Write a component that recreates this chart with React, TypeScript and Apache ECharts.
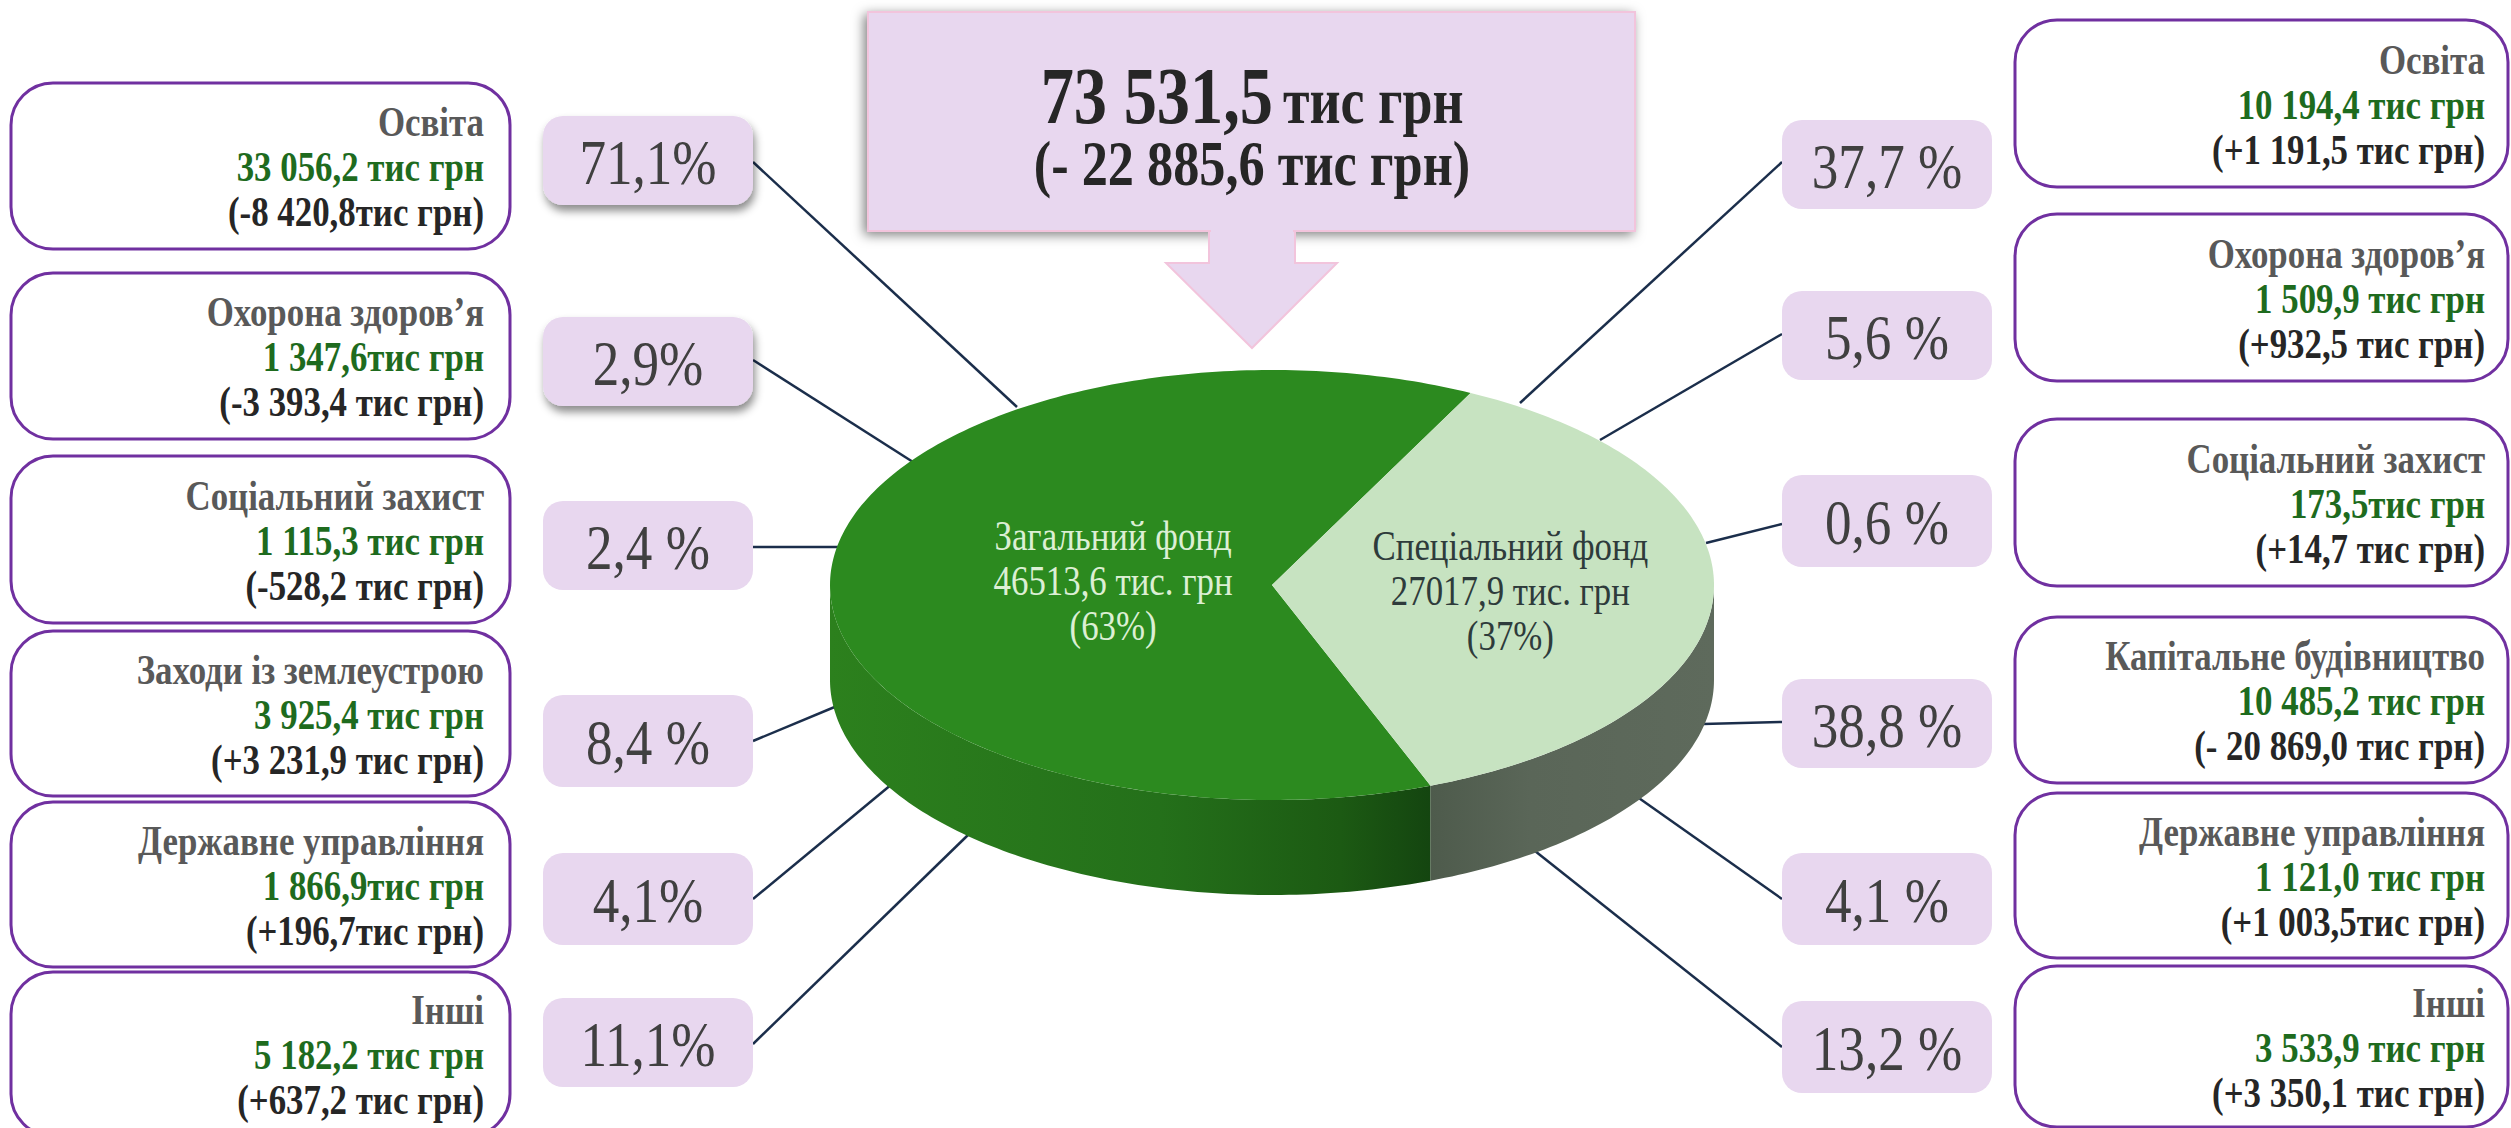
import React, { useEffect, useRef } from 'react';
import * as echarts from 'echarts';

// ---------------- DATA ----------------
const fundNames = ['Загальний фонд', 'Спеціальний фонд'];
const fundValues = [46513.6, 27017.9];
const fundShares = ['63%', '37%'];
const fundUnit = 'тис. грн';

const totalAmount = '73 531,5';
const totalUnit = 'тис грн';
const totalChange = '(- 22 885,6 тис грн)';

const leftCategories = ['Освіта', 'Охорона здоров’я', 'Соціальний захист', 'Заходи із землеустрою', 'Державне управління', 'Інші'];
const leftAmounts = ['33 056,2 тис грн', '1 347,6тис грн', '1 115,3 тис грн', '3 925,4 тис грн', '1 866,9тис грн', '5 182,2 тис грн'];
const leftChanges = ['(-8 420,8тис грн)', '(-3 393,4 тис грн)', '(-528,2 тис грн)', '(+3 231,9 тис грн)', '(+196,7тис грн)', '(+637,2 тис грн)'];
const leftShares = ['71,1%', '2,9%', '2,4 %', '8,4 %', '4,1%', '11,1%'];

const rightCategories = ['Освіта', 'Охорона здоров’я', 'Соціальний захист', 'Капітальне будівництво', 'Державне управління', 'Інші'];
const rightAmounts = ['10 194,4 тис грн', '1 509,9 тис грн', '173,5тис грн', '10 485,2 тис грн', '1 121,0 тис грн', '3 533,9 тис грн'];
const rightChanges = ['(+1 191,5 тис грн)', '(+932,5 тис грн)', '(+14,7 тис грн)', '(- 20 869,0 тис грн)', '(+1 003,5тис грн)', '(+3 350,1 тис грн)'];
const rightShares = ['37,7 %', '5,6 %', '0,6 %', '38,8 %', '4,1 %', '13,2 %'];

// ---------------- LAYOUT ----------------
const W = 2511;
const H = 1128;
const FAMILY = 'Liberation Serif';
const SQUEEZE = 0.83; // the reference's serif text is horizontally condensed

const PIE = { cx: 1272, cy: 585, rx: 442, ry: 215, depth: 95, startAngle: 63.3 };
const pieTopColors = ['#2C8A1F', '#C7E3C1'];
const pieLabelColors = ['#DCEFD4', '#2E3B3B'];
const pieLabelRadius = [0.36, 0.54];

const leftInfoY = [[83, 249], [273, 439], [456, 623], [631, 796], [802, 967], [972, 1136]];
const rightInfoY = [[20, 187], [214, 381], [419, 586], [617, 783], [793, 958], [966, 1127]];
const leftPctY = [[116, 205], [317, 406], [501, 590], [695, 787], [853, 945], [998, 1087]];
const rightPctY = [[120, 209], [291, 380], [475, 567], [679, 768], [853, 945], [1001, 1093]];
const leftPctShadow = [true, true, false, false, false, false];
// [startY, endX, endY]
const leftLines = [[162, 1017, 407], [360, 913, 462], [547, 840, 547], [741, 837, 706], [899, 892, 784], [1044, 968, 835]];
const rightLines = [[162, 1520, 403], [334, 1600, 440], [524, 1706, 543], [722, 1703, 724], [899, 1636, 796], [1047, 1535, 851]];

const LAV = '#E8D7EF';
const PURPLE = '#7030A0';
const LINE = '#1B2E4B';

function txt(x: number, y: number, text: string, size: number, bold: boolean, fill: string, align: string) {
  return {
    type: 'text',
    x,
    y,
    scaleX: SQUEEZE,
    style: {
      text,
      fontFamily: FAMILY,
      fontSize: size,
      fontWeight: bold ? 'bold' : 'normal',
      fill,
      align,
      textAlign: align,
      verticalAlign: 'middle',
      textVerticalAlign: 'middle',
    },
  };
}

function buildGraphic() {
  const els: any[] = [];
  // connector lines
  leftLines.forEach((l) => {
    els.push({ type: 'line', shape: { x1: 753, y1: l[0], x2: l[1], y2: l[2] }, style: { stroke: LINE, lineWidth: 2.5 } });
  });
  rightLines.forEach((l) => {
    els.push({ type: 'line', shape: { x1: 1782, y1: l[0], x2: l[1], y2: l[2] }, style: { stroke: LINE, lineWidth: 2.5 } });
  });

  // top summary box + arrow
  els.push({
    type: 'rect',
    shape: { x: 868, y: 12, width: 767, height: 219 },
    style: { fill: LAV, stroke: '#F2C4DC', lineWidth: 2, shadowBlur: 12, shadowColor: 'rgba(0,0,0,0.5)', shadowOffsetX: -3, shadowOffsetY: 3 },
  });
  els.push({
    type: 'polygon',
    shape: { points: [[1209, 231], [1209, 263], [1166, 263], [1252, 348], [1337, 263], [1295, 263], [1295, 231]] },
    style: { fill: LAV, stroke: '#F2C4DC', lineWidth: 2 },
  });
  els.push({ type: 'rect', shape: { x: 1211, y: 226, width: 82, height: 8 }, style: { fill: LAV } });
  els.push(txt(1273, 96, totalAmount, 80, true, '#262626', 'right'));
  els.push(txt(1283, 101, totalUnit, 65, true, '#262626', 'left'));
  els.push(txt(1252, 164, totalChange, 63, true, '#262626', 'center'));

  // percent boxes
  const pctBox = (x: number, y0: number, y1: number, label: string, shadow: boolean) => {
    els.push({
      type: 'rect',
      shape: { x, y: y0, width: 210, height: y1 - y0, r: 20 },
      style: shadow
        ? { fill: LAV, shadowBlur: 8, shadowColor: 'rgba(0,0,0,0.45)', shadowOffsetX: 2, shadowOffsetY: 6 }
        : { fill: LAV },
    });
    els.push(txt(x + 105, (y0 + y1) / 2 + 2, label, 64, false, '#404040', 'center'));
  };
  leftShares.forEach((s, i) => pctBox(543, leftPctY[i][0], leftPctY[i][1], s, leftPctShadow[i]));
  rightShares.forEach((s, i) => pctBox(1782, rightPctY[i][0], rightPctY[i][1], s, false));

  // info boxes
  const infoBox = (x: number, w: number, y0: number, y1: number, tx: number, cat: string, amt: string, chg: string) => {
    els.push({
      type: 'rect',
      shape: { x, y: y0, width: w, height: y1 - y0, r: 42 },
      style: { fill: '#FFFFFF', stroke: PURPLE, lineWidth: 3 },
    });
    const c = (y0 + y1) / 2;
    els.push(txt(tx, c - 44, cat, 42, true, '#595959', 'right'));
    els.push(txt(tx, c + 1, amt, 42, true, '#1E6B1E', 'right'));
    els.push(txt(tx, c + 46, chg, 42, true, '#262626', 'right'));
  };
  leftCategories.forEach((cat, i) =>
    infoBox(11, 499, leftInfoY[i][0], leftInfoY[i][1], 484, cat, leftAmounts[i], leftChanges[i])
  );
  rightCategories.forEach((cat, i) =>
    infoBox(2015, 493, rightInfoY[i][0], rightInfoY[i][1], 2485, cat, rightAmounts[i], rightChanges[i])
  );
  return els;
}

const total = fundValues.reduce((a, b) => a + b, 0);

function renderPie(params: any, api: any) {
  const i = params.dataIndex;
  let a0 = PIE.startAngle;
  for (let k = 0; k < i; k++) a0 += (fundValues[k] / total) * 360;
  const v = api.value(0) as number;
  const a1 = a0 + (v / total) * 360;
  const { cx, cy, rx, ry, depth } = PIE;
  const pt = (deg: number, dy: number) => {
    const r = (deg * Math.PI) / 180;
    return [cx + rx * Math.cos(r), cy - ry * Math.sin(r) + dy];
  };
  const arc = (from: number, to: number, dy: number) => {
    const n = Math.max(2, Math.ceil(Math.abs(to - from)));
    const pts: number[][] = [];
    for (let k = 0; k <= n; k++) pts.push(pt(from + ((to - from) * k) / n, dy));
    return pts;
  };
  const children: any[] = [];
  const boundaryX = pt(PIE.startAngle + (fundValues[0] / total) * 360, 0)[0];
  const sideFills = [
    new echarts.graphic.LinearGradient(cx - rx, 0, boundaryX, 0, [
      { offset: 0, color: '#2C801D' },
      { offset: 0.55, color: '#24701A' },
      { offset: 0.85, color: '#1C5A13' },
      { offset: 1, color: '#144510' },
    ], true),
    new echarts.graphic.LinearGradient(boundaryX, 0, cx + rx, 0, [
      { offset: 0, color: '#4E5B4C' },
      { offset: 0.35, color: '#5A6658' },
      { offset: 1, color: '#5E6A5C' },
    ], true),
  ];
  [0, 360].forEach((off) => {
    const s = Math.max(a0, 180 + off);
    const e = Math.min(a1, 360 + off);
    if (e > s) {
      children.push({
        type: 'polygon',
        shape: { points: [...arc(s, e, 0), ...arc(e, s, depth)] },
        style: { fill: sideFills[i] },
      });
    }
  });
  children.push({
    type: 'polygon',
    shape: { points: [[cx, cy], ...arc(a0, a1, 0)] },
    style: { fill: pieTopColors[i] },
  });
  const mid = ((a0 + a1) / 2) * (Math.PI / 180);
  const lr = pieLabelRadius[i];
  const lx = cx + rx * lr * Math.cos(mid);
  const ly = cy - ry * lr * Math.sin(mid);
  const valStr = String(v).replace('.', ',');
  children.push({
    type: 'text',
    x: lx,
    y: ly,
    scaleX: SQUEEZE,
    style: {
      text: `${fundNames[i]}\n${valStr} ${fundUnit}\n(${fundShares[i]})`,
      fontFamily: FAMILY,
      fontSize: 42,
      fill: pieLabelColors[i],
      align: 'center',
      textAlign: 'center',
      verticalAlign: 'middle',
      textVerticalAlign: 'middle',
      lineHeight: 45,
    },
  });
  return { type: 'group', children };
}

export default function App() {
  const ref = useRef<HTMLDivElement>(null);
  useEffect(() => {
    if (!ref.current) return;
    const chart = echarts.init(ref.current, undefined, { renderer: 'svg' });
    chart.setOption({
      animation: false,
      backgroundColor: '#FFFFFF',
      graphic: { elements: buildGraphic() },
      series: [
        {
          type: 'custom',
          coordinateSystem: 'none',
          silent: true,
          z: 5,
          renderItem: renderPie,
          data: fundValues.map((v) => [v]),
        },
      ],
    });
    return () => chart.dispose();
  }, []);
  return (
    <div
      ref={ref}
      style={{ position: 'absolute', left: 0, top: 0, width: W, height: H, background: '#fff' }}
    />
  );
}
